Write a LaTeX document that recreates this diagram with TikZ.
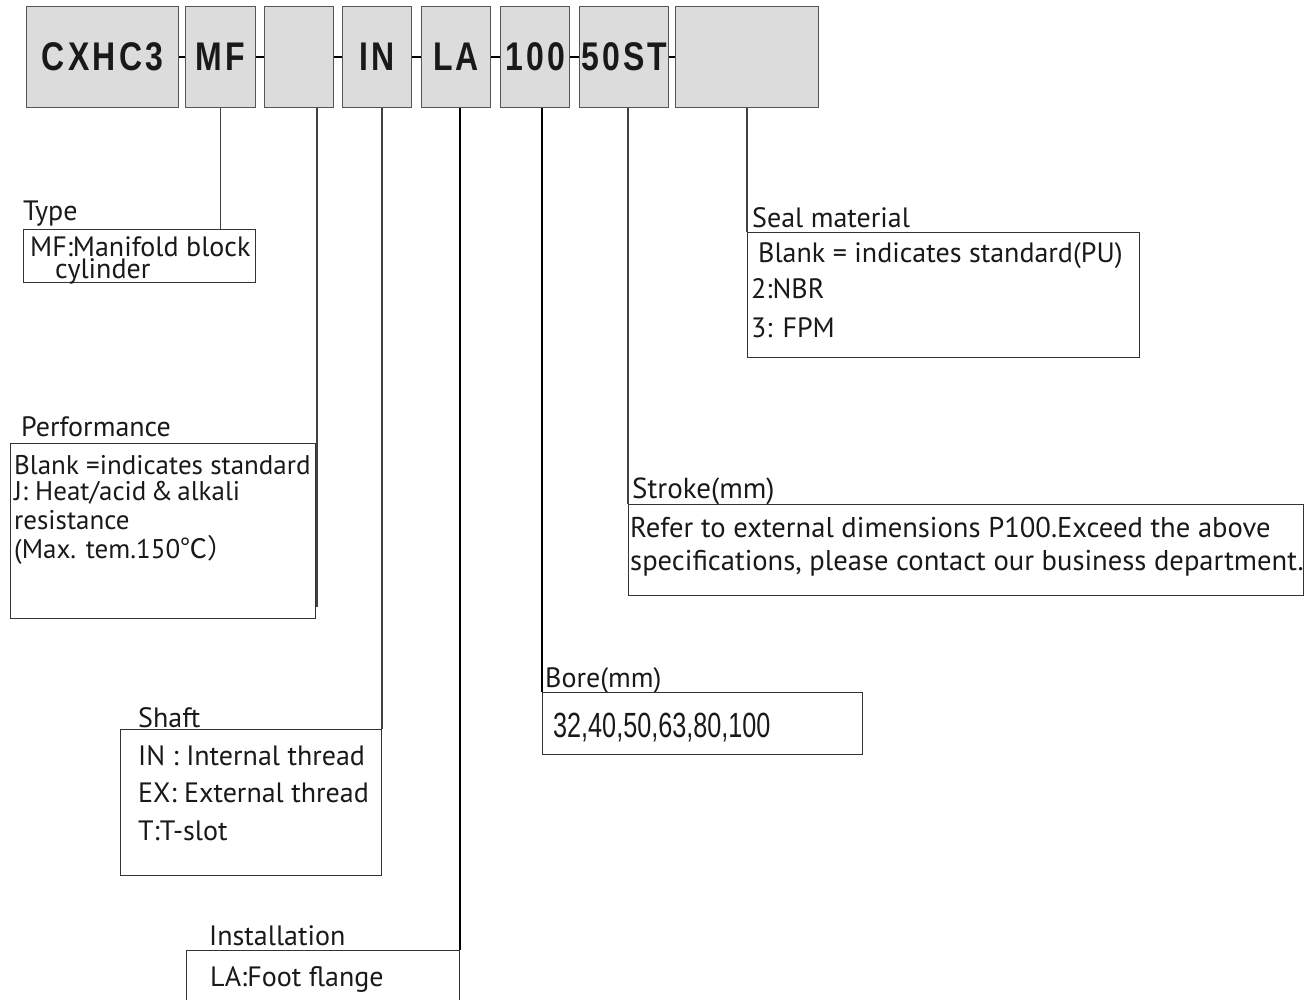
\documentclass[tikz,border=0pt]{standalone}
\usepackage{fontspec}
\setmainfont{PT Sans}
\newfontfamily\codefont[FakeStretch=0.8,LetterSpace=8]{Liberation Sans}
\newfontfamily\narrowfont[FakeStretch=0.72]{Liberation Sans}
\newfontfamily\cjkfont{Noto Sans CJK SC}
\definecolor{codefill}{HTML}{DCDCDC}
\definecolor{codeedge}{HTML}{555555}

\begin{document}
\begin{tikzpicture}[x=1pt, y=-1pt,
    codebox/.style={draw=codeedge, fill=codefill, line width=1.2pt, anchor=north west,
        inner sep=0pt, minimum height=101pt, text=black!90,
        font=\codefont\bfseries\fontsize{40}{40}\selectfont},
    infobox/.style={draw=black!80, line width=1pt, anchor=north west, inner sep=0pt},
    caption/.style={anchor=base west, inner sep=0pt, text=black!90,
        font=\fontsize{#1}{#1}\selectfont},
    caption/.default=28,
    link/.style={draw=black!75, line width=1.3pt}]
  \useasboundingbox (0,0) rectangle (1316,999);

  % code boxes along the top
  \foreach \nm/\x/\w/\t in {cSeries/26/152/CXHC3, cType/185/70/MF, cPerf/264/69/,
      cShaft/342/69/IN, cMount/421/69/LA, cBore/500/69/100, cStroke/579/89/50ST, cSeal/675/143/}
  {
    \node[codebox, minimum width=\w] (\nm) at (\x,6) {\t};
  }
  \foreach \a/\b in {cSeries/cType, cType/cPerf, cPerf/cShaft, cShaft/cMount,
      cMount/cBore, cBore/cStroke, cStroke/cSeal}
    \draw[link, draw=black] (\a) -- (\b);

  % type
  \node[caption] (lType) at (23,220) {Type};
  \node[infobox, minimum width=232, minimum height=53] (iType) at (23,229) {};
  \node[caption] (tType1) at (30,256) {MF:Manifold block};
  \node[caption] (tType2) at (55,278) {cylinder};

  % performance
  \node[caption] (lPerf) at (21,436) {Performance};
  \node[infobox, minimum width=305, minimum height=175] (iPerf) at (10,443) {};
  \node[caption=27] (tPerf1) at (14,474) {Blank =indicates standard};
  \node[caption=27] (tPerf2) at (14,500) {J: Heat/acid\,\&\,alkali};
  \node[caption=27] (tPerf3) at (14,529) {resistance};
  \node[caption=27] (tPerf4) at (14,558) {(Max. tem.150{\cjkfont ℃）}};
  \coordinate (pEnd) at (317,607);

  % shaft
  \node[caption] (lShaft) at (138,727) {Shaft};
  \node[infobox, minimum width=261, minimum height=146] (iShaft) at (120,729) {};
  \node[caption] (tShaft1) at (138,765) {IN : Internal thread};
  \node[caption] (tShaft2) at (138,802) {EX: External thread};
  \node[caption] (tShaft3) at (138,840) {T:T-slot};

  % installation
  \node[caption] (lMount) at (209,945) {Installation};
  \node[infobox, minimum width=273, minimum height=70] (iMount) at (186,950) {};
  \node[caption] (tMount1) at (210,986) {LA:Foot flange};

  % bore
  \node[caption] (lBore) at (545,687) {Bore(mm)};
  \node[infobox, minimum width=320, minimum height=62] (iBore) at (542,692) {};
  \node[caption, font=\narrowfont\fontsize{35}{35}\selectfont] (tBore1) at (553,737) {32,40,50,63,80,100};

  % stroke
  \node[caption=29] (lStroke) at (632,498) {Stroke(mm)};
  \node[infobox, minimum width=675, minimum height=91] (iStroke) at (628,504) {};
  \node[caption=28.6] (tStroke1) at (630,537) {Refer to external dimensions P100.Exceed the above};
  \node[caption=28.6] (tStroke2) at (630,570) {specifications, please contact our business department.};

  % seal material
  \node[caption] (lSeal) at (752,227) {Seal material};
  \node[infobox, minimum width=392, minimum height=125] (iSeal) at (747,232) {};
  \node[caption] (tSeal1) at (758,262) {Blank = indicates standard(PU)};
  \node[caption] (tSeal2) at (751,298) {2:NBR};
  \node[caption] (tSeal3) at (751,337) {3: FPM};

  % leader lines
  \draw[link] (cType.south) -- (cType.south |- iType.north);
  \draw[link] (cPerf.south -| pEnd) -- (pEnd);
  \draw[link] (cShaft.south -| iShaft.east) -- (iShaft.north east);
  \draw[link, draw=black] (cMount.south -| iMount.east) -- (iMount.north east);
  \draw[link, draw=black] (cBore.south -| iBore.west) -- (iBore.north west);
  \draw[link] (cStroke.south -| iStroke.west) -- (iStroke.north west);
  \draw[link] (cSeal.south -| iSeal.west) -- (iSeal.north west);
\end{tikzpicture}
\end{document}
